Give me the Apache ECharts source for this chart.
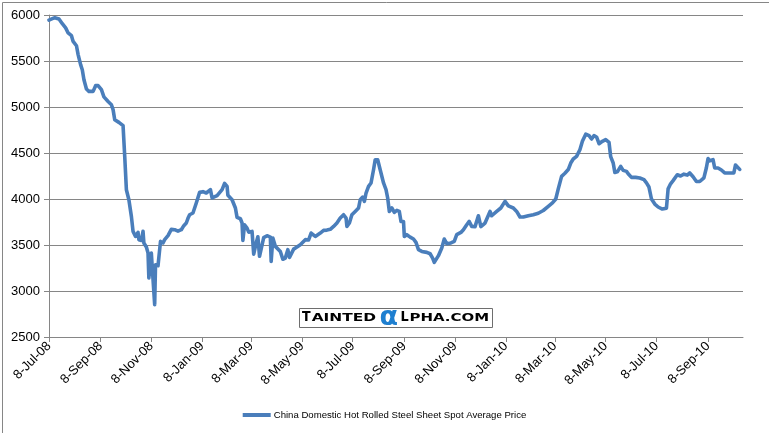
<!DOCTYPE html>
<html>
<head>
<meta charset="utf-8">
<script src="https://cdn.jsdelivr.net/npm/echarts@6/dist/echarts.min.js"></script>
<style>
html,body{margin:0;padding:0;background:#fff;}
#chart{width:769px;height:433px;}
</style>
</head>
<body>
<div id="chart"></div>
<script>
const seriesName = 'China Domestic Hot Rolled Steel Sheet Spot Average Price';
const dates = [
'2008-07-08','2008-07-12','2008-07-15','2008-07-20','2008-07-24','2008-07-28','2008-07-31','2008-08-04','2008-08-06','2008-08-10',
'2008-08-12','2008-08-15','2008-08-17','2008-08-19','2008-08-22','2008-08-25','2008-08-30','2008-09-02','2008-09-05','2008-09-09',
'2008-09-12','2008-09-17','2008-09-21','2008-09-23','2008-09-25','2008-09-30','2008-10-05','2008-10-07','2008-10-09','2008-10-12',
'2008-10-15','2008-10-17','2008-10-20','2008-10-23','2008-10-24','2008-10-27','2008-10-29','2008-10-30','2008-11-02','2008-11-04',
'2008-11-05','2008-11-08','2008-11-09','2008-11-12','2008-11-13','2008-11-16','2008-11-19','2008-11-22','2008-11-24','2008-11-28',
'2008-12-02','2008-12-06','2008-12-10','2008-12-14','2008-12-17','2008-12-20','2008-12-22','2008-12-24','2008-12-28','2009-01-01',
'2009-01-05','2009-01-09','2009-01-13','2009-01-15','2009-01-18','2009-01-20','2009-01-26','2009-02-01','2009-02-04','2009-02-07',
'2009-02-08','2009-02-13','2009-02-17','2009-02-19','2009-02-23','2009-02-25','2009-02-26','2009-02-28','2009-03-03','2009-03-05',
'2009-03-09','2009-03-11','2009-03-14','2009-03-16','2009-03-18','2009-03-20','2009-03-23','2009-03-27','2009-03-31','2009-04-01',
'2009-04-03','2009-04-06','2009-04-12','2009-04-15','2009-04-18','2009-04-21','2009-04-23','2009-04-28','2009-05-02','2009-05-06',
'2009-05-12','2009-05-16','2009-05-19','2009-05-24','2009-05-30','2009-06-03','2009-06-07','2009-06-11','2009-06-15','2009-06-19',
'2009-06-23','2009-06-27','2009-06-30','2009-07-01','2009-07-04','2009-07-07','2009-07-11','2009-07-15','2009-07-17','2009-07-20',
'2009-07-22','2009-07-24','2009-07-27','2009-07-30','2009-08-02','2009-08-04','2009-08-07','2009-08-10','2009-08-14','2009-08-17',
'2009-08-19','2009-08-21','2009-08-24','2009-08-27','2009-08-30','2009-09-02','2009-09-04','2009-09-07','2009-09-08','2009-09-11',
'2009-09-15','2009-09-19','2009-09-22','2009-09-25','2009-09-29','2009-10-05','2009-10-09','2009-10-12','2009-10-14','2009-10-19',
'2009-10-23','2009-10-26','2009-10-29','2009-11-03','2009-11-07','2009-11-10','2009-11-15','2009-11-18','2009-11-22','2009-11-25',
'2009-11-28','2009-12-02','2009-12-06','2009-12-09','2009-12-14','2009-12-20','2009-12-22','2009-12-28','2010-01-02','2010-01-07',
'2010-01-11','2010-01-17','2010-01-21','2010-01-25','2010-01-29','2010-02-04','2010-02-10','2010-02-16','2010-02-22','2010-02-28',
'2010-03-05','2010-03-09','2010-03-12','2010-03-16','2010-03-20','2010-03-24','2010-03-27','2010-03-30','2010-04-03','2010-04-07',
'2010-04-10','2010-04-14','2010-04-18','2010-04-21','2010-04-24','2010-04-27','2010-04-30','2010-05-04','2010-05-08','2010-05-12',
'2010-05-14','2010-05-17','2010-05-19','2010-05-22','2010-05-26','2010-05-29','2010-06-02','2010-06-04','2010-06-08','2010-06-13',
'2010-06-18','2010-06-23','2010-06-26','2010-06-29','2010-07-02','2010-07-06','2010-07-10','2010-07-15','2010-07-20','2010-07-22',
'2010-07-25','2010-07-28','2010-08-02','2010-08-06','2010-08-10','2010-08-14','2010-08-17','2010-08-21','2010-08-25','2010-08-29',
'2010-09-03','2010-09-06','2010-09-08','2010-09-10','2010-09-14','2010-09-16','2010-09-20','2010-09-24','2010-09-28','2010-10-09',
'2010-10-11','2010-10-13','2010-10-16'
];
const prices = [
5945,5960,5970,5956,5905,5860,5805,5775,5713,5666,
5570,5460,5405,5297,5196,5170,5170,5232,5232,5188,
5110,5060,5025,4971,4862,4833,4797,4463,4101,3992,
3811,3648,3593,3637,3558,3550,3648,3522,3478,3413,
3141,3413,3267,2851,3286,3275,3539,3522,3558,3601,
3670,3666,3650,3666,3710,3739,3790,3829,3848,3957,
4072,4080,4065,4083,4101,4011,4036,4101,4170,4137,
4040,3992,3902,3800,3785,3739,3550,3720,3684,3640,
3648,3400,3522,3590,3377,3377,3580,3601,3586,3322,
3576,3485,3430,3345,3358,3449,3365,3455,3478,3503,
3558,3555,3630,3593,3630,3659,3662,3670,3702,3739,
3793,3829,3793,3702,3739,3829,3865,3902,3992,4021,
3974,4065,4137,4174,4318,4427,4427,4318,4174,4101,
4011,3865,3902,3855,3876,3865,3756,3756,3593,3612,
3586,3565,3528,3449,3430,3420,3405,3358,3311,3384,
3467,3565,3514,3522,3539,3612,3637,3666,3720,3756,
3702,3700,3818,3700,3739,3865,3818,3865,3902,3974,
3925,3902,3865,3804,3804,3818,3829,3845,3875,3920,
3957,4000,4110,4246,4280,4320,4391,4435,4463,4536,
4627,4705,4688,4652,4688,4674,4601,4627,4645,4615,
4460,4391,4289,4295,4355,4311,4300,4275,4235,4235,
4228,4210,4175,4130,4000,3945,3913,3891,3900,4110,
4165,4200,4264,4250,4270,4260,4283,4242,4191,4190,
4230,4340,4440,4415,4427,4337,4337,4315,4283,4283,
4370,4365,4322
];
const tickDates = ['2008-07-08','2008-09-08','2008-11-08','2009-01-08','2009-03-08','2009-05-08','2009-07-08',
  '2009-09-08','2009-11-08','2010-01-08','2010-03-08','2010-05-08','2010-07-08','2010-09-08'];
const xMinDate = '2008-07-08';
const xMaxDate = '2010-10-20';
const yMin = 2500, yMax = 6000, yStep = 500;

const MON = ['Jan','Feb','Mar','Apr','May','Jun','Jul','Aug','Sep','Oct','Nov','Dec'];
function ts(s){ const p = s.split('-'); return Date.UTC(+p[0], +p[1]-1, +p[2]); }
function fmt(v){ const d = new Date(v); return d.getUTCDate() + '-' + MON[d.getUTCMonth()] + '-' + String(d.getUTCFullYear()).slice(2); }

const chart = echarts.init(document.getElementById('chart'), null, {renderer:'canvas'});
const tickVals = tickDates.map(ts);
const wmFont = 'DejaVu Sans';
function wm(text, x, y, size, sx, color){
  return { type: 'text', x: x, y: y, scaleX: sx, z: 101, silent: true,
    style: { text: text, fontSize: size, fontWeight: 'bold', fontFamily: wmFont, fill: color || '#000', align: 'left', verticalAlign: 'middle' } };
}
chart.setOption({
  animation: false,
  backgroundColor: '#ffffff',
  textStyle: { fontFamily: 'Liberation Sans' },
  grid: { left: 49, right: 26, top: 15, bottom: 96, containLabel: false, outerBoundsMode: 'none' },
  xAxis: {
    type: 'value',
    min: ts(xMinDate), max: ts(xMaxDate),
    splitLine: { show: false },
    axisLine: { show: true, lineStyle: { color: '#868686', width: 1 } },
    axisTick: { show: true, customValues: tickVals, length: 5, inside: false, lineStyle: { color: '#868686' } },
    axisLabel: { customValues: tickVals, rotate: 45, formatter: fmt, fontSize: 13, color: '#000', margin: 7, fontFamily: 'Liberation Sans' }
  },
  yAxis: {
    type: 'value', min: yMin, max: yMax, interval: yStep,
    splitLine: { show: true, lineStyle: { color: '#868686', width: 1 } },
    axisLine: { show: true, lineStyle: { color: '#868686', width: 1 } },
    axisTick: { show: true, length: 5, inside: false, lineStyle: { color: '#868686' } },
    axisLabel: { fontSize: 13, color: '#000', margin: 9, fontFamily: 'Liberation Sans', formatter: function(v){ return String(v); } }
  },
  legend: {
    show: true, left: 'center', top: 405,
    icon: 'rect', itemWidth: 28, itemHeight: 4, itemGap: 10,
    textStyle: { fontSize: 9.6, color: '#000', fontFamily: 'Liberation Sans', padding: [0,0,0,-2] },
    data: [seriesName]
  },
  series: [{
    name: seriesName,
    type: 'line',
    showSymbol: false,
    symbol: 'none',
    data: dates.map((d, i) => [ts(d), prices[i]]),
    lineStyle: { color: '#4a7ebb', width: 3.6, cap: 'round', join: 'round' },
    itemStyle: { color: '#4a7ebb' }
  }],
  graphic: [
    { type: 'rect', left: 0, top: 0, shape: { x: 0.5, y: 0.5, width: 768, height: 432 }, style: { fill: 'none', stroke: '#868686', lineWidth: 1 }, silent: true },
    { type: 'rect', x: 299.5, y: 308.5, shape: { width: 193, height: 19 }, style: { fill: '#fff', stroke: '#6e6e6e', lineWidth: 1 }, z: 100, silent: true },
    wm('T', 302, 317.5, 14, 0.9),
    wm('AINTED', 311.7, 318.4, 11, 1.4),
    wm('\u03B1', 379.5, 317.5, 27, 1.0, '#1e7fd0'),
    wm('L', 400.5, 317.5, 14, 0.92),
    wm('PHA.COM', 409.5, 318.4, 11, 1.36)
  ]
});
</script>
</body>
</html>
